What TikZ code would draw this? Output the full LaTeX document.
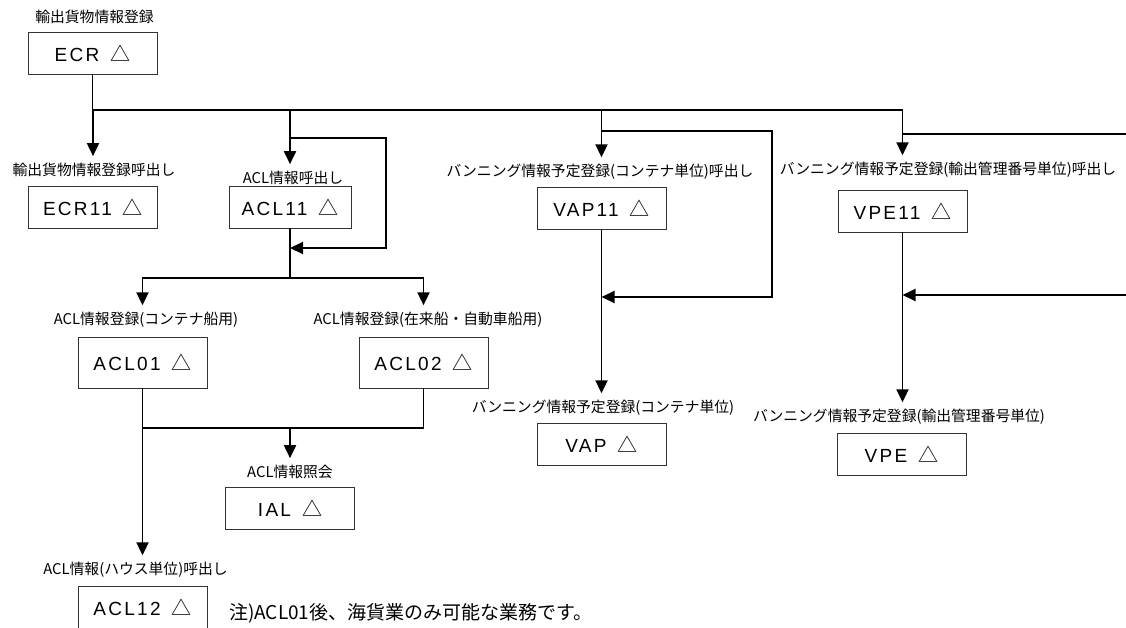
\documentclass[tikz,border=0pt]{standalone}
\usepackage{fontspec}
\setmainfont{Liberation Sans}
\newfontfamily\jpfont{Noto Sans CJK JP}
\newfontfamily\codefont[LetterSpace=12]{Liberation Sans}
\usetikzlibrary{arrows.meta}
\tikzset{box/.style={draw=black!80, line width=0.8pt, minimum width=129pt, minimum height=42pt, inner sep=0pt,
    font=\codefont\fontsize{19}{21}\selectfont},
%labels above the boxes
lbl/.style={font=\jpfont\fontsize{14.8}{16}\selectfont, inner sep=2pt, outer sep=5pt},
conn/.style={line width=1.9pt},
tip/.style={-{Triangle[length=13pt,width=12pt]}}}
\newcommand{\tri}{\hspace{11pt}{\jpfont\fontsize{20}{20}\selectfont △}}

\begin{document}
\begin{tikzpicture}[x=1pt,y=-1pt]
\useasboundingbox (0,0) rectangle (1126,627);
\clip (0,0) rectangle (1126,627);

% boxes
\node[box] (ECR) at (92.5,53.5) {ECR\tri};
\node[box] (ECR11) at (93,207.5) {ECR11\tri};
\node[box, minimum width=122pt] (ACL11) at (290,207) {ACL11\tri};
\node[box] (VAP11) at (601.5,208.5) {VAP11\tri};
\node[box] (VPE11) at (902.5,211) {VPE11\tri};
\node[box, minimum height=51pt] (ACL01) at (142.5,362.5) {ACL01\tri};
\node[box, minimum height=51pt] (ACL02) at (423.5,362.5) {ACL02\tri};
\node[box] (VAP) at (601.5,444) {VAP\tri};
\node[box] (VPE) at (901.5,454) {VPE\tri};
\node[box] (IAL) at (290,508) {IAL\tri};
\node[box, minimum height=43pt] (ACL12) at (142.5,607.5) {ACL12\tri};

% labels
\node[lbl] (lECR) at (94.5,17) {輸出貨物情報登録};
\node[lbl] (lECR11) at (94,170) {輸出貨物情報登録呼出し};
\node[lbl] (lACL11) at (293,178) {ACL情報呼出し};
\node[lbl] (lVAP11) at (600,172) {バンニング情報予定登録(コンテナ単位)呼出し};
\node[lbl] (lVPE11) at (948,170) {バンニング情報予定登録(輸出管理番号単位)呼出し};
\node[lbl] (lACL01) at (146,320) {ACL情報登録(コンテナ船用)};
\node[lbl] (lACL02) at (428,320) {ACL情報登録(在来船・自動車船用)};
\node[lbl] (lVAP) at (603,408) {バンニング情報予定登録(コンテナ単位)};
\node[lbl] (lVPE) at (899,417) {バンニング情報予定登録(輸出管理番号単位)};
\node[lbl] (lIAL) at (290,472) {ACL情報照会};
\node[lbl] (lACL12) at (135.5,570) {ACL情報(ハウス単位)呼出し};
\node[anchor=west, font=\jpfont\fontsize{19}{21}\selectfont, inner sep=0pt] (note) at (229,613)
    {注)ACL01後、海貨業のみ可能な業務です。};

% main line from ECR
\coordinate (bus0) at (93,110);
\coordinate (bus1) at (902.5,110);
\draw[conn] (ECR.south) -- (ECR.south |- bus0) -- (bus1);
\draw[conn,tip] (bus0) -- (bus0 |- lECR11.north);
\draw[conn,tip] (ACL11 |- bus0) -- (ACL11 |- lACL11.north);
\draw[conn,tip] (VAP11 |- bus0) -- (VAP11 |- lVAP11.north);
\draw[conn,tip] (bus1) -- (bus1 |- lVPE11.north);

% ACL11 loop and split
\coordinate (a1) at (386,138);
\coordinate (a2) at (386,248);
\draw[conn,tip] (ACL11 |- a1) -- (a1) -- (a2) -- (ACL11 |- a2);
\coordinate (split) at (290,278);
\draw[conn] (ACL11.south) -- (split);
\draw[conn,tip] (split) -- (ACL01 |- split) -- (ACL01 |- lACL01.north);
\draw[conn,tip] (split) -- (ACL02 |- split) -- (ACL02 |- lACL02.north);

% VAP11 loop
\coordinate (b1) at (772,131);
\coordinate (b2) at (772,297);
\draw[conn,tip] (VAP11 |- b1) -- (b1) -- (b2) -- (VAP11 |- b2);
\draw[conn,tip] (VAP11.south) -- (VAP11 |- lVAP.north);

% VPE11 loop (runs off the page)
\coordinate (c1) at (1140,134);
\coordinate (c2) at (1140,295);
\draw[conn,tip] (VPE11 |- c1) -- (c1) -- (c2) -- (VPE11 |- c2);
\draw[conn,tip] (VPE11.south) -- (VPE11 |- lVPE.north);

% ACL01/ACL02 join
\coordinate (join) at (290,428);
\draw[conn] (ACL02.south) -- (ACL02 |- join) -- (ACL01 |- join);
\draw[conn,tip] (ACL01.south) -- (ACL01 |- lACL12.north);
\draw[conn,tip] (IAL |- join) -- (IAL |- lIAL.north);

\end{tikzpicture}
\end{document}
